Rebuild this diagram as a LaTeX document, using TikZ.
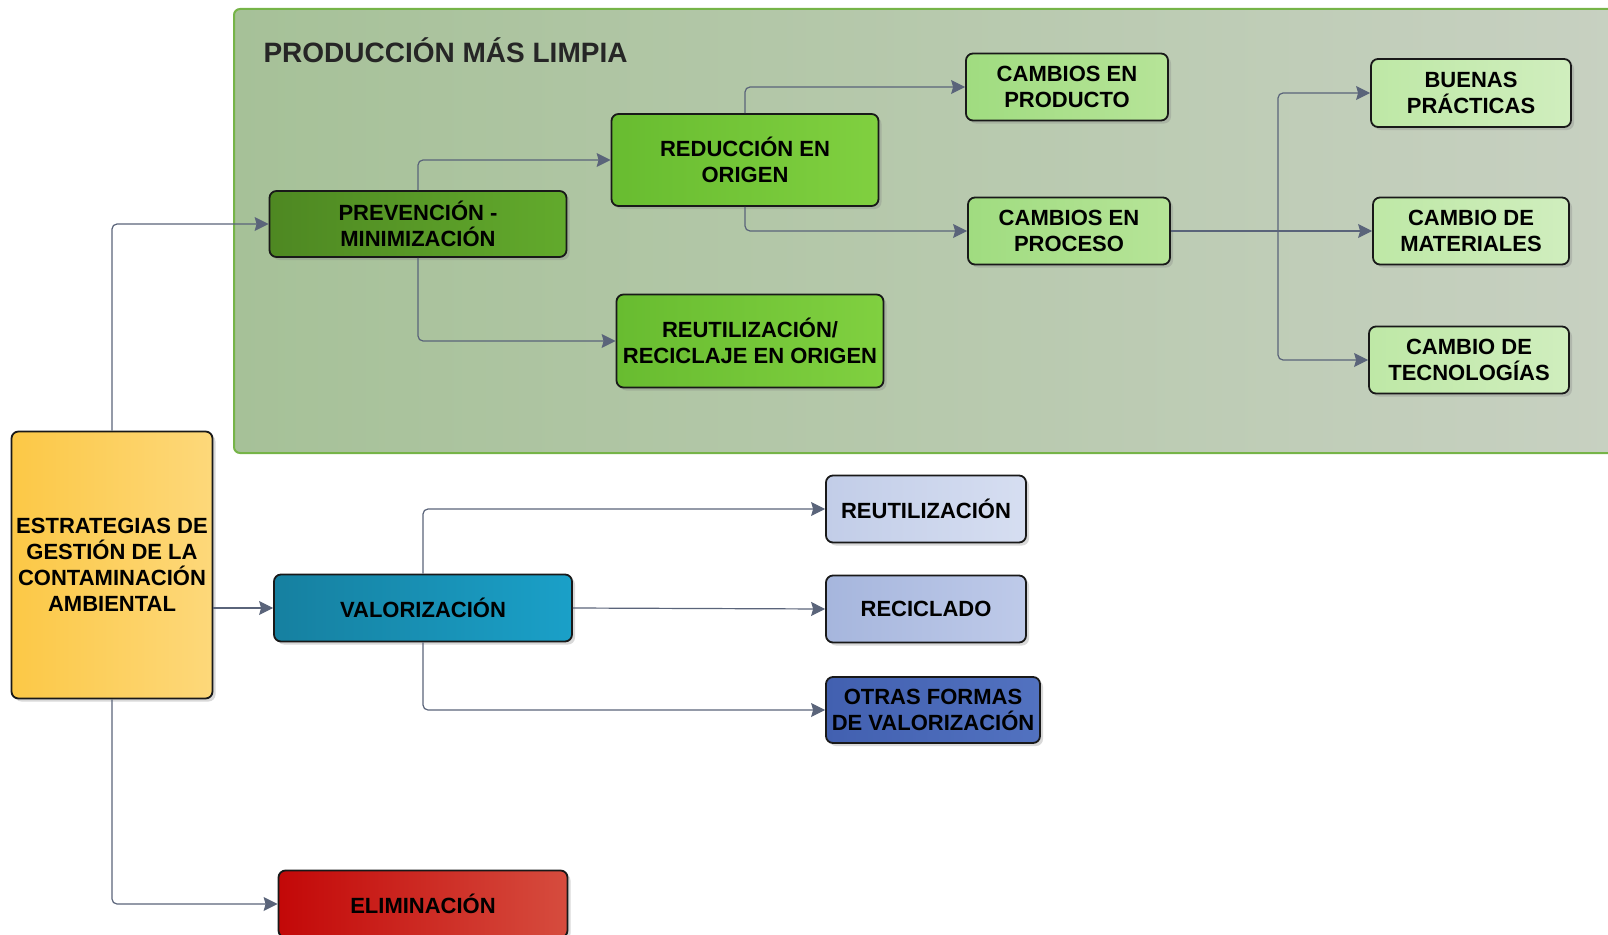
\documentclass[tikz,border=0pt]{standalone}
\usepackage{fontspec}
\setmainfont{Liberation Sans}
\usetikzlibrary{shadows,arrows.meta}
\tikzset{>={Stealth[length=14pt,width=14pt,inset=2pt]}}
\definecolor{linkgray}{RGB}{90,100,122}
\definecolor{zonegreen}{RGB}{118,180,72}
\definecolor{zoneA}{RGB}{166,193,152}
\definecolor{zoneB}{RGB}{200,209,194}
\definecolor{estA}{RGB}{252,200,70}
\definecolor{estB}{RGB}{253,216,122}
\definecolor{darkgrA}{RGB}{78,136,34}
\definecolor{darkgrB}{RGB}{98,170,44}
\definecolor{midgrA}{RGB}{104,188,48}
\definecolor{midgrB}{RGB}{128,208,64}
\definecolor{ltgrA}{RGB}{160,220,128}
\definecolor{ltgrB}{RGB}{182,228,152}
\definecolor{palegrA}{RGB}{190,232,166}
\definecolor{palegrB}{RGB}{208,238,190}
\definecolor{tealA}{RGB}{22,128,160}
\definecolor{tealB}{RGB}{26,160,200}
\definecolor{lavA}{RGB}{194,205,232}
\definecolor{lavB}{RGB}{214,222,241}
\definecolor{periA}{RGB}{166,182,221}
\definecolor{periB}{RGB}{190,202,233}
\definecolor{navyA}{RGB}{66,96,176}
\definecolor{navyB}{RGB}{82,114,192}
\definecolor{redA}{RGB}{195,8,8}
\definecolor{redB}{RGB}{214,76,62}

\tikzset{
  box/.style={draw=black!90, line width=1.8pt, rounded corners=7pt, align=center,
    inner sep=0pt, font=\fontsize{22}{26}\selectfont\bfseries,
    drop shadow={shadow xshift=3pt, shadow yshift=-3pt, opacity=0.3}},
  link/.style={->, draw=linkgray, line width=1.2pt, rounded corners=5pt},
  shade2/.style n args={2}{left color=#1, right color=#2}
}

\begin{document}
\begin{tikzpicture}[x=1pt, y=-1pt]
    \useasboundingbox (0,0) rectangle (1608,934);
    \shade[left color=zoneA, right color=zoneB, draw=zonegreen, line width=2pt, rounded corners=6pt] (234,9) rectangle (1640,453);
    \node[anchor=west, font=\fontsize{28}{32}\selectfont\bfseries, text=black!85] (title) at (260,50) {PRODUCCIÓN MÁS LIMPIA};

    \node[box, minimum width=201pt, minimum height=267pt, shade2={estA}{estB}] (est) at (112,565) {ESTRATEGIAS DE\\GESTIÓN DE LA\\CONTAMINACIÓN\\AMBIENTAL};

    \node[box, minimum width=297pt, minimum height=66pt, shade2={darkgrA}{darkgrB}] (prev) at (418,224) {PREVENCIÓN -\\MINIMIZACIÓN};
    \node[box, minimum width=267pt, minimum height=92pt, shade2={midgrA}{midgrB}] (red) at (745,160) {REDUCCIÓN EN\\ORIGEN};
    \node[box, minimum width=267pt, minimum height=93pt, shade2={midgrA}{midgrB}] (reu) at (750,341) {REUTILIZACIÓN/\\RECICLAJE EN ORIGEN};
    \node[box, minimum width=202pt, minimum height=67pt, shade2={ltgrA}{ltgrB}] (prod) at (1067,87) {CAMBIOS EN\\PRODUCTO};
    \node[box, minimum width=202pt, minimum height=67pt, shade2={ltgrA}{ltgrB}] (proc) at (1069,231) {CAMBIOS EN\\PROCESO};
    \node[box, minimum width=200pt, minimum height=68pt, shade2={palegrA}{palegrB}] (buen) at (1471,93) {BUENAS\\PRÁCTICAS};
    \node[box, minimum width=196pt, minimum height=67pt, shade2={palegrA}{palegrB}] (mat) at (1471,231) {CAMBIO DE\\MATERIALES};
    \node[box, minimum width=200pt, minimum height=67pt, shade2={palegrA}{palegrB}] (tec) at (1469,360) {CAMBIO DE\\TECNOLOGÍAS};

    \node[box, minimum width=298pt, minimum height=67pt, shade2={tealA}{tealB}] (val) at (423,608) {VALORIZACIÓN};
    \node[box, minimum width=200pt, minimum height=67pt, shade2={lavA}{lavB}] (reut) at (926,509) {REUTILIZACIÓN};
    \node[box, minimum width=200pt, minimum height=67pt, shade2={periA}{periB}] (rec) at (926,609) {RECICLADO};
    \node[box, minimum width=214pt, minimum height=66pt, shade2={navyA}{navyB}] (otras) at (933,710) {OTRAS FORMAS\\DE VALORIZACIÓN};
    \node[box, minimum width=289pt, minimum height=67pt, shade2={redA}{redB}] (elim) at (423,904) {ELIMINACIÓN};

    \coordinate (split) at (1278,231);

    \draw[link] (est.north) |- (prev.west);
    \draw[link] (est.east |- val.west) -- (val.west);
    \draw[link] (est.south) |- (elim.west);
    \draw[link] (prev.north) |- (red.west);
    \draw[link] (prev.south) |- (reu.west);
    \draw[link] (red.north) |- (prod.west);
    \draw[link] (red.south) |- (proc.west);
    \draw[link] (proc.east) -- (mat.west);
    \draw[link] (split) |- (buen.west);
    \draw[link] (split) |- (tec.west);
    \draw[link] (val.north) |- (reut.west);
    \draw[link] (val.east) -- (rec.west);
    \draw[link] (val.south) |- (otras.west);
\end{tikzpicture}
\end{document}
